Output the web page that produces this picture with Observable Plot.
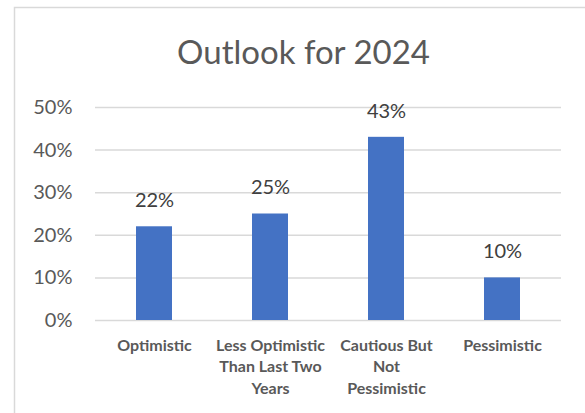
<!DOCTYPE html>
<html><head><meta charset="utf-8">
<script src="https://cdn.jsdelivr.net/npm/d3@7"></script>
<script src="https://cdn.jsdelivr.net/npm/@observablehq/plot@0.6"></script>
<style>
body{margin:0;background:#fff;}
#chart{position:relative;width:585px;height:413px;}
</style></head>
<body><div id="chart"></div>
<script>
const title = "Outlook for 2024";
const categories = ["Optimistic", "Less Optimistic Than Last Two Years", "Cautious But Not Pessimistic", "Pessimistic"];
const categoryLines = [["Optimistic"], ["Less Optimistic", "Than Last Two", "Years"], ["Cautious But", "Not", "Pessimistic"], ["Pessimistic"]];
const values = [0.22, 0.25, 0.43, 0.10];
const yTicks = [0, 0.1, 0.2, 0.3, 0.4, 0.5];

const data = categories.map((c, i) => ({category: c, value: values[i], label: categoryLines[i].join("\n")}));
const font = "Lato, 'Open Sans', sans-serif";

const plot = Plot.plot({
  width: 585,
  height: 413,
  marginTop: 107,
  marginBottom: 93,
  marginLeft: 95,
  marginRight: 24,
  style: {fontFamily: font, background: "transparent"},
  x: {domain: categories, paddingInner: 0.69, paddingOuter: 0.345, align: 0.5, axis: null},
  y: {domain: [0, 0.5], ticks: yTicks, axis: null},
  marks: [
    Plot.ruleY(yTicks, {stroke: "#d9d9d9", strokeWidth: 1.5}),
    Plot.barY(data, {x: "category", y: "value", fill: "#4472c4"}),
    Plot.text(data, {x: "category", y: "value", text: d => Math.round(d.value * 100) + "%", dy: -26, fill: "#404040", fontSize: 20}),
    Plot.text(yTicks, {x: null, y: d => d, text: d => Math.round(d * 100) + "%", frameAnchor: "left", textAnchor: "end", dx: -23, fill: "#595959", fontSize: 20}),
    Plot.text(data, {x: "category", frameAnchor: "bottom", text: "label", lineAnchor: "top", dy: 15, lineHeight: 1.34, fill: "#595959", fontSize: 16, fontWeight: "bold"}),
    Plot.text([title], {frameAnchor: "top", text: d => d, dx: -25, dy: -67, fill: "#595959", fontSize: 33})
  ]
});
const svg = d3.select(plot);
svg.insert("rect", ":first-child")
  .attr("x", 14.5).attr("y", 7.5).attr("width", 600).attr("height", 420)
  .attr("fill", "#fff").attr("stroke", "#d9d9d9").attr("stroke-width", 1.5);
document.getElementById("chart").appendChild(plot);
</script>
</body></html>
